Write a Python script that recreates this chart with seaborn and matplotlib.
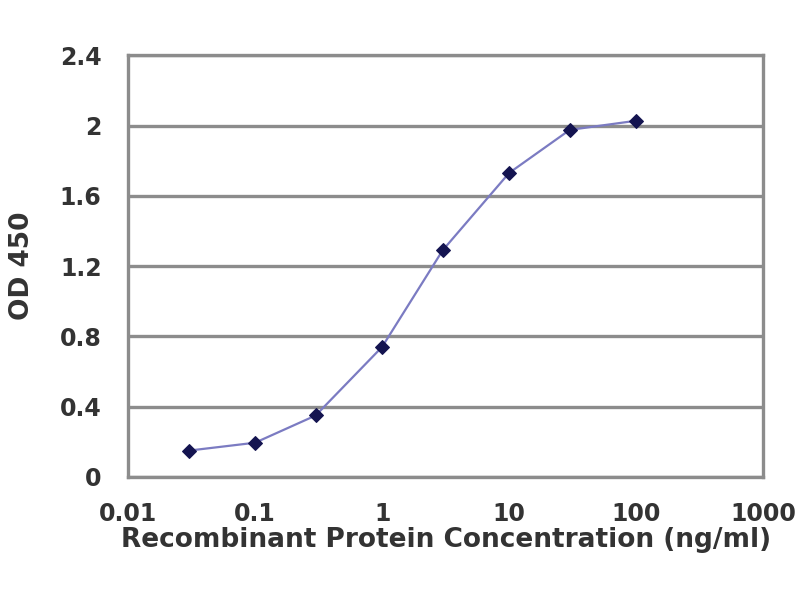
import matplotlib
matplotlib.use("Agg")
import matplotlib.pyplot as plt
import seaborn as sns
import pandas as pd

concentration = [0.03, 0.1, 0.3, 1, 3, 10, 30, 100]
od450 = [0.15, 0.195, 0.35, 0.74, 1.29, 1.73, 1.975, 2.027]
y_ticks = [0, 0.4, 0.8, 1.2, 1.6, 2, 2.4]
y_tick_labels = ["0", "0.4", "0.8", "1.2", "1.6", "2", "2.4"]
x_ticks = [0.01, 0.1, 1, 10, 100, 1000]
x_tick_labels = ["0.01", "0.1", "1", "10", "100", "1000"]

df = pd.DataFrame({"conc": concentration, "od": od450})

sns.set_theme(style="white")
plt.rcParams["font.family"] = ["DejaVu Sans"]

fig = plt.figure(figsize=(8, 6), dpi=100)
ax = fig.add_axes([0.16, 0.205, 0.794, 0.703])

for y in y_ticks:
    ax.axhline(y, color="#8c8c8c", lw=2.4, zorder=1)

sns.lineplot(data=df, x="conc", y="od", ax=ax, color="#7b7bc2", lw=1.6,
             marker="D", markersize=7, markerfacecolor="#141450",
             markeredgecolor="#141450", zorder=3)

ax.set_xscale("log")
ax.set_xlim(0.01, 1000)
ax.set_ylim(0, 2.4)
ax.set_xticks(x_ticks)
ax.set_xticklabels(x_tick_labels)
ax.minorticks_off()
ax.set_yticks(y_ticks)
ax.set_yticklabels(y_tick_labels)

for s in ax.spines.values():
    s.set_color("#8c8c8c")
    s.set_linewidth(2.4)

for lab in ax.get_xticklabels() + ax.get_yticklabels():
    lab.set_fontsize(17)
    lab.set_fontweight("bold")
    lab.set_color("#333333")

ax.tick_params(axis="x", direction="in", length=4, color="#8c8c8c", width=1.5,
               pad=18)
ax.tick_params(axis="y", direction="out", length=4, color="#8c8c8c", width=1.5,
               pad=15)

ax.set_xlabel("Recombinant Protein Concentration (ng/ml)", fontsize=19,
              fontweight="bold", color="#333333", labelpad=0.5)
ax.set_ylabel("OD 450", fontsize=19, fontweight="bold", color="#333333",
              labelpad=18)

fig.savefig("out.png", dpi=100, facecolor="white")
